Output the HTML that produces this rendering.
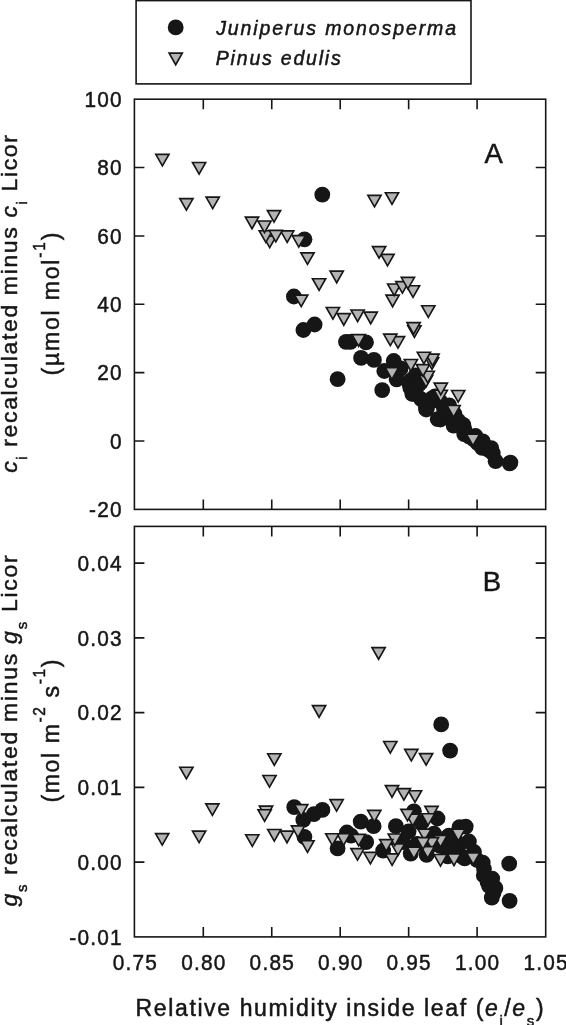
<!DOCTYPE html>
<html lang="en"><head><meta charset="utf-8"><title>Figure</title>
<style>
html,body{margin:0;padding:0;background:#fff;}
body{width:566px;height:1025px;overflow:hidden;}
svg{display:block;}
.t{font-family:"Liberation Sans",sans-serif;fill:#161616;stroke:#161616;stroke-width:0.5px;}
</style></head><body>
<svg width="566" height="1025" viewBox="0 0 566 1025">
<rect width="566" height="1025" fill="#fff"/>
<rect x="136.1" y="0.6" width="334.9" height="83.30000000000001" fill="#fff" stroke="#161616" stroke-width="1.6"/>
<g fill="#161616">
<circle cx="175.7" cy="27.4" r="7.9"/>
</g>
<g fill="#b3b3b3" stroke="#161616" stroke-width="1.65">
<path d="M169.10 53.15H182.30L175.70 64.75Z"/>
</g>
<g class="t" font-style="italic" font-size="19.5">
<text x="216.2" y="34.9" letter-spacing="1.9">Juniperus monosperma</text>
<text x="215.8" y="64.6" letter-spacing="1.8">Pinus edulis</text>
</g>
<rect x="134.4" y="99.2" width="411.30000000000007" height="410.2" fill="none" stroke="#161616" stroke-width="1.6"/>
<rect x="134.4" y="526.4" width="411.30000000000007" height="410.5" fill="none" stroke="#161616" stroke-width="1.6"/>
<path d="M203.30 99.2v10M203.30 509.4v-10M271.75 99.2v10M271.75 509.4v-10M340.20 99.2v10M340.20 509.4v-10M408.65 99.2v10M408.65 509.4v-10M477.10 99.2v10M477.10 509.4v-10" fill="none" stroke="#161616" stroke-width="1.6"/>
<path d="M203.30 526.4v10M203.30 936.9v-10M271.75 526.4v10M271.75 936.9v-10M340.20 526.4v10M340.20 936.9v-10M408.65 526.4v10M408.65 936.9v-10M477.10 526.4v10M477.10 936.9v-10" fill="none" stroke="#161616" stroke-width="1.6"/>
<path d="M134.4 167.57h10M545.7 167.57h-10M134.4 235.93h10M545.7 235.93h-10M134.4 304.30h10M545.7 304.30h-10M134.4 372.67h10M545.7 372.67h-10M134.4 441.03h10M545.7 441.03h-10" fill="none" stroke="#161616" stroke-width="1.6"/>
<path d="M134.4 563.15h10M545.7 563.15h-10M134.4 637.90h10M545.7 637.90h-10M134.4 712.65h10M545.7 712.65h-10M134.4 787.40h10M545.7 787.40h-10M134.4 862.15h10M545.7 862.15h-10" fill="none" stroke="#161616" stroke-width="1.6"/>
<g fill="#161616">
<circle cx="322.3" cy="194.7" r="7.9"/>
<circle cx="304.5" cy="239.3" r="7.9"/>
<circle cx="293.9" cy="296.5" r="7.9"/>
<circle cx="314.6" cy="324.5" r="7.9"/>
<circle cx="303.4" cy="330.0" r="7.9"/>
<circle cx="346.0" cy="341.8" r="7.9"/>
<circle cx="350.4" cy="341.8" r="7.9"/>
<circle cx="366.0" cy="342.3" r="7.9"/>
<circle cx="361.1" cy="357.9" r="7.9"/>
<circle cx="373.9" cy="359.9" r="7.9"/>
<circle cx="393.7" cy="361.0" r="7.9"/>
<circle cx="384.3" cy="371.0" r="7.9"/>
<circle cx="398.5" cy="370.0" r="7.9"/>
<circle cx="337.6" cy="379.2" r="7.9"/>
<circle cx="382.2" cy="390.1" r="7.9"/>
<circle cx="396.6" cy="379.3" r="7.9"/>
<circle cx="409.5" cy="383.6" r="7.9"/>
<circle cx="412.3" cy="393.8" r="7.9"/>
<circle cx="410.3" cy="380.6" r="7.9"/>
<circle cx="415.6" cy="375.3" r="7.9"/>
<circle cx="415.6" cy="391.2" r="7.9"/>
<circle cx="410.3" cy="387.7" r="7.9"/>
<circle cx="428.0" cy="403.6" r="7.9"/>
<circle cx="426.2" cy="409.5" r="7.9"/>
<circle cx="435.0" cy="396.5" r="7.9"/>
<circle cx="440.4" cy="401.8" r="7.9"/>
<circle cx="449.2" cy="405.4" r="7.9"/>
<circle cx="454.5" cy="414.2" r="7.9"/>
<circle cx="440.4" cy="419.5" r="7.9"/>
<circle cx="445.7" cy="414.2" r="7.9"/>
<circle cx="463.3" cy="424.8" r="7.9"/>
<circle cx="419.2" cy="384.2" r="7.9"/>
<circle cx="427.1" cy="407.6" r="7.9"/>
<circle cx="437.7" cy="419.2" r="7.9"/>
<circle cx="437.7" cy="399.1" r="7.9"/>
<circle cx="448.3" cy="407.6" r="7.9"/>
<circle cx="453.6" cy="416.0" r="7.9"/>
<circle cx="453.6" cy="425.6" r="7.9"/>
<circle cx="464.2" cy="428.8" r="7.9"/>
<circle cx="464.2" cy="434.1" r="7.9"/>
<circle cx="473.8" cy="439.4" r="7.9"/>
<circle cx="482.2" cy="447.8" r="7.9"/>
<circle cx="488.6" cy="450.0" r="7.9"/>
<circle cx="492.8" cy="453.1" r="7.9"/>
<circle cx="495.6" cy="461.2" r="7.9"/>
<circle cx="509.6" cy="463.3" r="7.9"/>
<circle cx="510.4" cy="462.6" r="7.9"/>
<circle cx="482.8" cy="441.3" r="7.9"/>
<circle cx="491.2" cy="448.1" r="7.9"/>
<circle cx="475.5" cy="436.0" r="7.9"/>
<circle cx="414.3" cy="393.9" r="7.9"/>
<circle cx="426.0" cy="407.7" r="7.9"/>
<circle cx="419.6" cy="381.2" r="7.9"/>
<circle cx="432.4" cy="398.2" r="7.9"/>
<circle cx="400.6" cy="368.5" r="7.9"/>
<circle cx="478.0" cy="443.5" r="7.9"/>
<circle cx="469.0" cy="436.5" r="7.9"/>
<circle cx="458.5" cy="421.0" r="7.9"/>
<circle cx="444.0" cy="409.0" r="7.9"/>
<circle cx="421.5" cy="399.5" r="7.9"/>
<circle cx="441.2" cy="724.4" r="7.9"/>
<circle cx="450.1" cy="750.6" r="7.9"/>
<circle cx="294.2" cy="807.1" r="7.9"/>
<circle cx="322.4" cy="809.9" r="7.9"/>
<circle cx="313.9" cy="814.1" r="7.9"/>
<circle cx="303.3" cy="819.8" r="7.9"/>
<circle cx="304.4" cy="836.8" r="7.9"/>
<circle cx="360.7" cy="821.7" r="7.9"/>
<circle cx="346.9" cy="832.5" r="7.9"/>
<circle cx="351.0" cy="835.7" r="7.9"/>
<circle cx="337.6" cy="848.4" r="7.9"/>
<circle cx="373.6" cy="826.2" r="7.9"/>
<circle cx="366.2" cy="842.1" r="7.9"/>
<circle cx="383.2" cy="850.6" r="7.9"/>
<circle cx="395.9" cy="826.2" r="7.9"/>
<circle cx="408.6" cy="831.5" r="7.9"/>
<circle cx="413.9" cy="811.3" r="7.9"/>
<circle cx="437.5" cy="818.5" r="7.9"/>
<circle cx="421.3" cy="823.0" r="7.9"/>
<circle cx="410.7" cy="853.7" r="7.9"/>
<circle cx="426.6" cy="854.8" r="7.9"/>
<circle cx="434.0" cy="833.6" r="7.9"/>
<circle cx="448.9" cy="835.7" r="7.9"/>
<circle cx="459.5" cy="827.2" r="7.9"/>
<circle cx="459.5" cy="844.2" r="7.9"/>
<circle cx="446.8" cy="848.4" r="7.9"/>
<circle cx="462.7" cy="856.9" r="7.9"/>
<circle cx="417.0" cy="844.0" r="7.9"/>
<circle cx="465.7" cy="826.6" r="7.9"/>
<circle cx="468.9" cy="841.5" r="7.9"/>
<circle cx="456.2" cy="841.5" r="7.9"/>
<circle cx="447.7" cy="837.2" r="7.9"/>
<circle cx="447.7" cy="856.3" r="7.9"/>
<circle cx="464.7" cy="858.4" r="7.9"/>
<circle cx="482.7" cy="862.7" r="7.9"/>
<circle cx="483.8" cy="875.4" r="7.9"/>
<circle cx="492.2" cy="878.6" r="7.9"/>
<circle cx="495.4" cy="888.1" r="7.9"/>
<circle cx="489.1" cy="886.0" r="7.9"/>
<circle cx="491.8" cy="897.7" r="7.9"/>
<circle cx="509.2" cy="863.7" r="7.9"/>
<circle cx="509.6" cy="900.8" r="7.9"/>
<circle cx="474.0" cy="852.0" r="7.9"/>
<circle cx="477.0" cy="860.0" r="7.9"/>
<circle cx="403.0" cy="842.0" r="7.9"/>
<circle cx="430.0" cy="846.0" r="7.9"/>
<circle cx="440.0" cy="846.0" r="7.9"/>
<circle cx="452.0" cy="852.0" r="7.9"/>
<circle cx="484.0" cy="869.0" r="7.9"/>
<circle cx="487.5" cy="882.0" r="7.9"/>
<circle cx="493.5" cy="893.0" r="7.9"/>
</g>
<g fill="#b3b3b3" stroke="#161616" stroke-width="1.65">
<path d="M466.40 434.05H479.60L473.00 445.65Z"/>
<path d="M447.00 405.45H460.20L453.60 417.05Z"/>
<path d="M451.60 390.45H464.80L458.20 402.05Z"/>
<path d="M434.20 390.25H447.40L440.80 401.85Z"/>
<path d="M434.20 383.15H447.40L440.80 394.75Z"/>
<path d="M419.40 375.45H432.60L426.00 387.05Z"/>
<path d="M421.10 371.25H434.30L427.70 382.85Z"/>
<path d="M385.30 367.75H398.50L391.90 379.35Z"/>
<path d="M416.40 364.65H429.60L423.00 376.25Z"/>
<path d="M404.30 359.45H417.50L410.90 371.05Z"/>
<path d="M425.40 357.75H438.60L432.00 369.35Z"/>
<path d="M425.90 354.15H439.10L432.50 365.75Z"/>
<path d="M417.30 352.25H430.50L423.90 363.85Z"/>
<path d="M391.40 336.55H404.60L398.00 348.15Z"/>
<path d="M352.00 334.65H365.20L358.60 346.25Z"/>
<path d="M383.70 334.05H396.90L390.30 345.65Z"/>
<path d="M407.80 325.75H421.00L414.40 337.35Z"/>
<path d="M407.00 322.65H420.20L413.60 334.25Z"/>
<path d="M337.20 313.65H350.40L343.80 325.25Z"/>
<path d="M364.10 312.15H377.30L370.70 323.75Z"/>
<path d="M351.00 309.95H364.20L357.60 321.55Z"/>
<path d="M326.30 307.45H339.50L332.90 319.05Z"/>
<path d="M421.70 305.75H434.90L428.30 317.35Z"/>
<path d="M386.00 295.15H399.20L392.60 306.75Z"/>
<path d="M294.60 295.05H307.80L301.20 306.65Z"/>
<path d="M406.40 285.75H419.60L413.00 297.35Z"/>
<path d="M387.60 283.95H400.80L394.20 295.55Z"/>
<path d="M395.80 281.55H409.00L402.40 293.15Z"/>
<path d="M312.50 278.75H325.70L319.10 290.35Z"/>
<path d="M401.30 277.35H414.50L407.90 288.95Z"/>
<path d="M330.10 271.15H343.30L336.70 282.75Z"/>
<path d="M380.90 254.35H394.10L387.50 265.95Z"/>
<path d="M300.90 252.85H314.10L307.50 264.45Z"/>
<path d="M372.50 246.55H385.70L379.10 258.15Z"/>
<path d="M263.10 236.05H276.30L269.70 247.65Z"/>
<path d="M292.20 235.55H305.40L298.80 247.15Z"/>
<path d="M280.60 230.85H293.80L287.20 242.45Z"/>
<path d="M259.20 230.75H272.40L265.80 242.35Z"/>
<path d="M269.20 230.35H282.40L275.80 241.95Z"/>
<path d="M257.90 220.95H271.10L264.50 232.55Z"/>
<path d="M245.40 217.15H258.60L252.00 228.75Z"/>
<path d="M267.40 210.55H280.60L274.00 222.15Z"/>
<path d="M179.80 198.55H193.00L186.40 210.15Z"/>
<path d="M206.10 197.05H219.30L212.70 208.65Z"/>
<path d="M367.90 195.35H381.10L374.50 206.95Z"/>
<path d="M385.40 192.75H398.60L392.00 204.35Z"/>
<path d="M192.50 162.45H205.70L199.10 174.05Z"/>
<path d="M155.80 154.35H169.00L162.40 165.95Z"/>
<path d="M466.60 852.85H479.80L473.20 864.45Z"/>
<path d="M451.80 829.25H465.00L458.40 840.85Z"/>
<path d="M447.40 853.95H460.60L454.00 865.55Z"/>
<path d="M433.90 854.45H447.10L440.50 866.05Z"/>
<path d="M433.90 835.45H447.10L440.50 847.05Z"/>
<path d="M425.30 837.55H438.50L431.90 849.15Z"/>
<path d="M424.90 806.35H438.10L431.50 817.95Z"/>
<path d="M421.50 813.75H434.70L428.10 825.35Z"/>
<path d="M421.10 846.65H434.30L427.70 858.25Z"/>
<path d="M419.50 753.55H432.70L426.10 765.15Z"/>
<path d="M417.90 829.05H431.10L424.50 840.65Z"/>
<path d="M416.40 837.55H429.60L423.00 849.15Z"/>
<path d="M408.40 790.75H421.60L415.00 802.35Z"/>
<path d="M407.30 847.05H420.50L413.90 858.65Z"/>
<path d="M406.20 814.25H419.40L412.80 825.85Z"/>
<path d="M404.70 749.35H417.90L411.30 760.95Z"/>
<path d="M400.90 809.35H414.10L407.50 820.95Z"/>
<path d="M397.30 788.55H410.50L403.90 800.15Z"/>
<path d="M391.40 843.85H404.60L398.00 855.45Z"/>
<path d="M388.20 833.95H401.40L394.80 845.55Z"/>
<path d="M385.50 853.85H398.70L392.10 865.45Z"/>
<path d="M385.40 785.65H398.60L392.00 797.25Z"/>
<path d="M383.70 741.45H396.90L390.30 753.05Z"/>
<path d="M379.70 839.65H392.90L386.30 851.25Z"/>
<path d="M372.00 647.65H385.20L378.60 659.25Z"/>
<path d="M367.70 810.35H380.90L374.30 821.95Z"/>
<path d="M363.80 852.35H377.00L370.40 863.95Z"/>
<path d="M352.00 834.35H365.20L358.60 845.95Z"/>
<path d="M350.90 848.55H364.10L357.50 860.15Z"/>
<path d="M337.00 833.75H350.20L343.60 845.35Z"/>
<path d="M330.00 799.55H343.20L336.60 811.15Z"/>
<path d="M325.70 833.75H338.90L332.30 845.35Z"/>
<path d="M312.50 705.65H325.70L319.10 717.25Z"/>
<path d="M300.90 840.75H314.10L307.50 852.35Z"/>
<path d="M294.60 804.65H307.80L301.20 816.25Z"/>
<path d="M291.40 825.85H304.60L298.00 837.45Z"/>
<path d="M280.40 831.15H293.60L287.00 842.75Z"/>
<path d="M267.70 829.45H280.90L274.30 841.05Z"/>
<path d="M267.70 753.75H280.90L274.30 765.35Z"/>
<path d="M262.90 775.45H276.10L269.50 787.05Z"/>
<path d="M259.40 806.05H272.60L266.00 817.65Z"/>
<path d="M258.00 809.75H271.20L264.60 821.35Z"/>
<path d="M245.70 834.75H258.90L252.30 846.35Z"/>
<path d="M205.80 803.85H219.00L212.40 815.45Z"/>
<path d="M192.50 831.05H205.70L199.10 842.65Z"/>
<path d="M179.80 767.25H193.00L186.40 778.85Z"/>
<path d="M155.60 833.55H168.80L162.20 845.15Z"/>
</g>
<g class="t" font-size="22.4" text-anchor="end" letter-spacing="1.3">
<text transform="translate(122.8 106.9) scale(.93 1)">100</text>
<text transform="translate(122.8 175.3) scale(.93 1)">80</text>
<text transform="translate(122.8 243.6) scale(.93 1)">60</text>
<text transform="translate(122.8 312.0) scale(.93 1)">40</text>
<text transform="translate(122.8 380.4) scale(.93 1)">20</text>
<text transform="translate(122.8 448.7) scale(.93 1)">0</text>
<text transform="translate(122.8 517.1) scale(.93 1)">-20</text>
<text transform="translate(122.8 570.9) scale(.93 1)">0.04</text>
<text transform="translate(122.8 645.6) scale(.93 1)">0.03</text>
<text transform="translate(122.8 720.4) scale(.93 1)">0.02</text>
<text transform="translate(122.8 795.1) scale(.93 1)">0.01</text>
<text transform="translate(122.8 869.9) scale(.93 1)">0.00</text>
<text transform="translate(122.8 944.6) scale(.93 1)">-0.01</text>
</g>
<g class="t" font-size="22.4" text-anchor="middle" letter-spacing="1.3">
<text transform="translate(135.4 970.0) scale(.93 1)">0.75</text>
<text transform="translate(203.9 970.0) scale(.93 1)">0.80</text>
<text transform="translate(272.3 970.0) scale(.93 1)">0.85</text>
<text transform="translate(340.8 970.0) scale(.93 1)">0.90</text>
<text transform="translate(409.2 970.0) scale(.93 1)">0.95</text>
<text transform="translate(477.7 970.0) scale(.93 1)">1.00</text>
<text transform="translate(546.1 970.0) scale(.93 1)">1.05</text>
</g>
<g class="t" font-size="27.5"><text x="484.4" y="163">A</text><text x="482.8" y="591.3">B</text></g>
<text class="t" font-size="23" x="135.6" y="1016" letter-spacing="1.62">Relative humidity inside leaf (<tspan font-style="italic">e</tspan><tspan font-size="15" dy="9.5">i</tspan><tspan dy="-9.5">/</tspan><tspan font-style="italic">e</tspan><tspan font-size="15" dy="9.5">s</tspan><tspan dy="-9.5">)</tspan></text>
<g transform="translate(17.3 472.8) rotate(-90) scale(1 0.965)"><text class="t" font-size="23" x="0" y="0" letter-spacing="1.63"><tspan font-style="italic">c</tspan><tspan font-size="15" dy="10">i</tspan><tspan dy="-10"> recalculated minus </tspan><tspan font-style="italic">c</tspan><tspan font-size="15" dy="10">i</tspan><tspan dy="-10"> Licor</tspan></text></g>
<g transform="translate(58.8 375.6) rotate(-90) scale(1 1.03)"><text class="t" font-size="23" x="0" y="0" letter-spacing="1.83">(µmol mol<tspan font-size="15.5" dy="-13.4">-1</tspan><tspan dy="13.4">)</tspan></text></g>
<g transform="translate(17.3 906.5) rotate(-90) scale(1 0.965)"><text class="t" font-size="23" x="0" y="0" letter-spacing="1.72"><tspan font-style="italic">g</tspan><tspan font-size="15" dy="10">s</tspan><tspan dy="-10"> recalculated minus </tspan><tspan font-style="italic">g</tspan><tspan font-size="15" dy="10">s</tspan><tspan dy="-10"> Licor</tspan></text></g>
<g transform="translate(58.8 802.5) rotate(-90) scale(1 1.03)"><text class="t" font-size="23" x="0" y="0" letter-spacing="1.63">(mol m<tspan font-size="15.5" dy="-13.4">-2</tspan><tspan dy="13.4"> s</tspan><tspan font-size="15.5" dy="-13.4">-1</tspan><tspan dy="13.4">)</tspan></text></g>
</svg>
</body></html>
